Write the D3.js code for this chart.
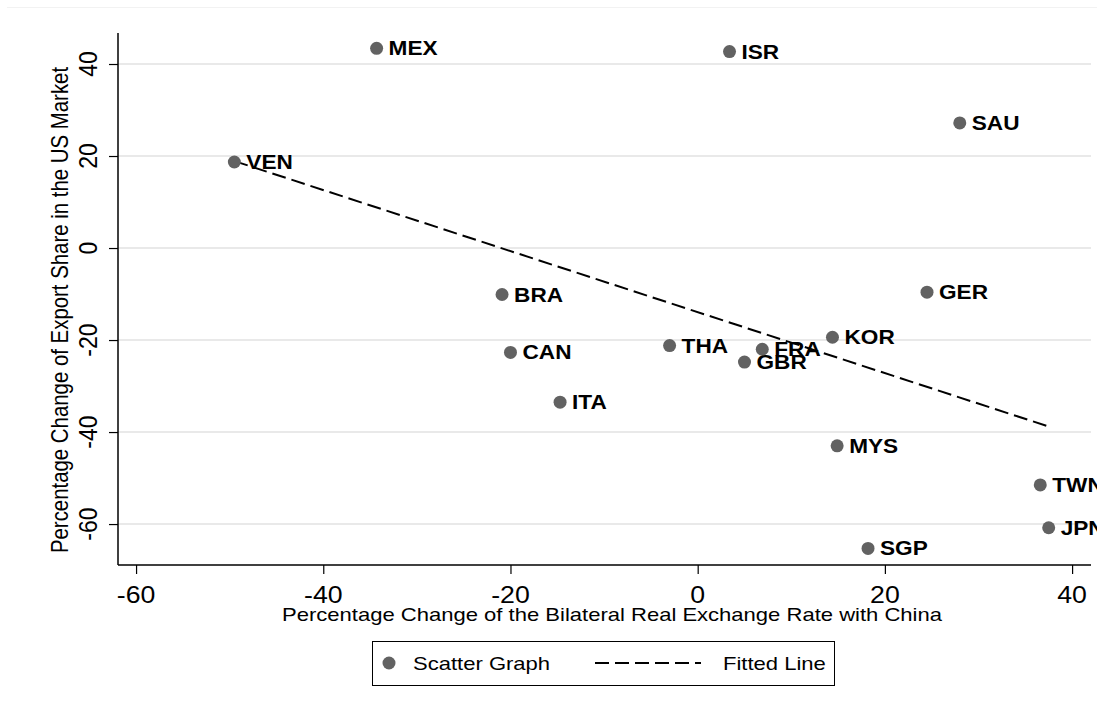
<!DOCTYPE html>
<html lang="en">
<head>
    <meta charset="UTF-8">
    <title>Export Share vs Real Exchange Rate</title>
    <script src="https://d3js.org/d3.v7.min.js"></script>
    <style>
        body {
            margin: 0;
            background: #fff;
            font-family: "Liberation Sans", Arial, sans-serif;
        }
        svg { display: block; }
        .tick-label { font-size: 23px; fill: #000; }
        .axis-title { font-size: 19px; fill: #000; }
        .axis-title.y-title { font-size: 20.4px; }
        .pt-label { font-size: 19.5px; font-weight: bold; fill: #000; }
        .legend-text { font-size: 19px; fill: #000; }
    </style>
</head>
<body>
    <svg id="chart" width="1097" height="712"></svg>

    <script>
        // Country codes and their values
        const countries = ["MEX", "ISR", "SAU", "VEN", "GER", "BRA", "KOR", "THA", "FRA", "CAN", "GBR", "ITA", "MYS", "TWN", "JPN", "SGP"];
        const rerChange = [-34.3, 3.4, 28.0, -49.5, 24.5, -20.9, 14.4, -3.0, 6.9, -20.0, 5.0, -14.7, 14.9, 36.6, 37.5, 18.2];
        const shareChange = [43.4, 42.7, 27.2, 18.7, -9.6, -10.1, -19.4, -21.2, -22.0, -22.7, -24.8, -33.5, -43.0, -51.5, -60.8, -65.3];

        // Fitted line end points
        const fitX = [-49.5, 37.5];
        const fitY = [18.9, -38.8];

        const xTicks = [-60, -40, -20, 0, 20, 40];
        const yTicks = [-60, -40, -20, 0, 20, 40];

        const svg = d3.select("#chart");
        const plotL = 118, plotR = 1091, plotT = 33, plotB = 565;
        const SX = 1.16; // the original export is a bit wider than tall, text looks stretched

        const x = d3.scaleLinear().domain([-61.93, 42.02]).range([plotL, plotR]);
        const y = d3.scaleLinear().domain([-68.9, 46.74]).range([plotB, plotT]);

        // helper for horizontally stretched text
        function stretchedText(g, cls, tx, ty, str, anchor, rot) {
            return g.append("text")
                .attr("class", cls)
                .attr("text-anchor", anchor || "start")
                .attr("transform", `translate(${tx},${ty}) scale(${SX},1)` + (rot ? ` rotate(${rot})` : ""))
                .text(str);
        }

        // faint frame line at top
        svg.append("line")
            .attr("x1", 7).attr("x2", 1097)
            .attr("y1", 7.5).attr("y2", 7.5)
            .attr("stroke", "#f2f2f2").attr("stroke-width", 1);

        // grid lines
        svg.append("g")
            .selectAll("line")
            .data(yTicks)
            .join("line")
            .attr("x1", plotL).attr("x2", plotR)
            .attr("y1", d => y(d)).attr("y2", d => y(d))
            .attr("stroke", "#e9e9e9")
            .attr("stroke-width", 2);

        // y axis
        const yAxis = svg.append("g")
            .attr("transform", `translate(${plotL},0)`)
            .call(d3.axisLeft(y).tickValues(yTicks).tickSize(9).tickFormat(""));
        yAxis.select(".domain").attr("d", `M0,${plotT}V${plotB}`).attr("stroke-width", 1.5);
        yAxis.selectAll(".tick line").attr("stroke-width", 1.2);

        const yLab = svg.append("g");
        yTicks.forEach(d => stretchedText(yLab, "tick-label", 97, y(d), d, "middle", -90));

        // x axis
        const xAxis = svg.append("g")
            .attr("transform", `translate(0,${plotB})`)
            .call(d3.axisBottom(x).tickValues(xTicks).tickSize(9).tickFormat(""));
        xAxis.select(".domain").attr("d", `M${plotL},0H${plotR}`).attr("stroke-width", 1.5);
        xAxis.selectAll(".tick line").attr("stroke-width", 1.2);

        const xLab = svg.append("g");
        xTicks.forEach(d => stretchedText(xLab, "tick-label", x(d), 603, d, "middle"));

        // axis titles
        stretchedText(svg, "axis-title", 612, 621,
            "Percentage Change of the Bilateral Real Exchange Rate with China", "middle");
        stretchedText(svg, "axis-title y-title", 68, 310,
            "Percentage Change of Export Share in the US Market", "middle", -90);

        // fitted line
        const line = d3.line().x(d => x(d[0])).y(d => y(d[1]));
        svg.append("path")
            .datum(d3.zip(fitX, fitY))
            .attr("d", line)
            .attr("fill", "none")
            .attr("stroke", "#000")
            .attr("stroke-width", 2)
            .attr("stroke-dasharray", "14,6");

        // scatter points + labels
        const pts = countries.map((c, i) => ({ name: c, x: rerChange[i], y: shareChange[i] }));

        svg.append("g")
            .selectAll("circle")
            .data(pts)
            .join("circle")
            .attr("cx", d => x(d.x))
            .attr("cy", d => y(d.y))
            .attr("r", 6.5)
            .attr("fill", "#626262");

        const ptLab = svg.append("g");
        pts.forEach(d => {
            stretchedText(ptLab, "pt-label", x(d.x) + 12, y(d.y), d.name)
                .attr("dy", "0.36em");
        });

        // legend
        const lg = svg.append("g");
        lg.append("rect")
            .attr("x", 372.5).attr("y", 641.5)
            .attr("width", 462).attr("height", 44)
            .attr("fill", "#fff").attr("stroke", "#000").attr("stroke-width", 1);
        lg.append("circle")
            .attr("cx", 389).attr("cy", 663).attr("r", 6.5).attr("fill", "#626262");
        stretchedText(lg, "legend-text", 413, 663, "Scatter Graph").attr("dy", "0.36em");
        lg.append("line")
            .attr("x1", 595).attr("x2", 701)
            .attr("y1", 663).attr("y2", 663)
            .attr("stroke", "#000").attr("stroke-width", 2)
            .attr("stroke-dasharray", "14,6");
        stretchedText(lg, "legend-text", 723, 663, "Fitted Line").attr("dy", "0.36em");
    </script>
</body>
</html>
